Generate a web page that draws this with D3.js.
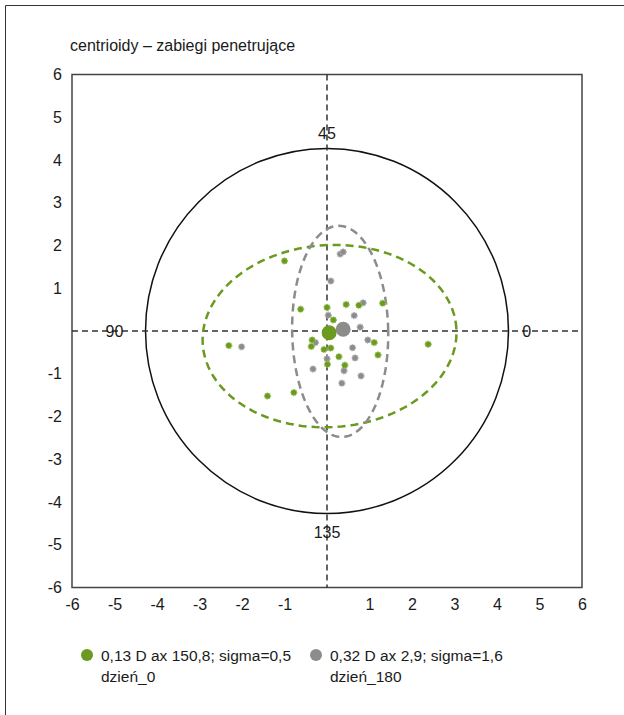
<!DOCTYPE html>
<html>
<head>
    <meta charset="utf-8">
    <title>centrioidy</title>
    <script src="https://d3js.org/d3.v7.min.js"></script>
    <style>
        body { margin: 0; background: #fff; }
        text { font-family: "Liberation Sans", Arial, sans-serif; font-size: 16px; fill: #1a1a1a; }
        .legend text { font-size: 15.5px; }
    </style>
</head>
<body>
    <div id="chart"></div>
    <script>
        // data (double-angle plot, dioptres)
        const xTicks = [-6, -5, -4, -3, -2, -1, 1, 2, 3, 4, 5, 6]
        const yTicks = [-6, -5, -4, -3, -2, -1, 1, 2, 3, 4, 5, 6]

        const day0X = [-1.00, -0.62, 0.00, 0.45, 0.75, 1.31, 0.15, -2.31, 2.38, -0.35, -0.37, -0.07, 0.09, 1.11, 1.20, 0.28, 0.01, 0.42, -1.40, -0.78]
        const day0Y = [1.64, 0.51, 0.55, 0.62, 0.60, 0.65, 0.26, -0.34, -0.31, -0.21, -0.36, -0.43, -0.40, -0.27, -0.56, -0.60, -0.78, -0.80, -1.52, -1.44]

        const day180X = [0.31, 0.38, 0.09, 0.85, 0.03, 0.64, 0.78, 0.96, -2.01, -0.27, 0.60, 0.66, 0.00, -0.33, 0.40, 0.80, 0.35]
        const day180Y = [1.80, 1.85, 1.17, 0.66, 0.37, 0.36, 0.09, -0.21, -0.37, -0.27, -0.39, -0.63, -0.65, -0.89, -0.93, -1.05, -1.22]

        const centroids = [
            { x: 0.05, y: -0.04, color: "#6a9a1f" },
            { x: 0.38, y: 0.04, color: "#8c8c8c" }
        ]

        // confidence ellipses: centre, semi axes, rotation (deg)
        const ellipses = [
            { cx: 0.06, cy: -0.12, rx: 2.99, ry: 2.13, rot: 3.4, color: "#6a9a1f" },
            { cx: 0.31, cy: -0.01, rx: 1.13, ry: 2.47, rot: 1.0, color: "#8c8c8c" }
        ]

        const ringRadius = 4.27
        const angleLabels = [
            { text: "0", x: 4.7, y: 0 },
            { text: "45", x: 0, y: 4.63 },
            { text: "90", x: -5.0, y: 0 },
            { text: "135", x: 0, y: -4.7 }
        ]

        const legendLabels = [
            ["0,13 D ax 150,8; sigma=0,5", "dzień_0"],
            ["0,32 D ax 2,9; sigma=1,6", "dzień_180"]
        ]

        const w = 624, h = 715
        const svg = d3.select("#chart").append("svg")
            .attr("width", w)
            .attr("height", h)

        // outer frame (top + left)
        svg.append("path")
            .attr("d", "M5.5,715 V5.5 H624")
            .attr("fill", "none")
            .attr("stroke", "#333")
            .attr("stroke-width", 1)

        svg.append("text")
            .attr("x", 70)
            .attr("y", 51)
            .text("centrioidy – zabiegi penetrujące")

        const xScale = d3.scaleLinear().domain([-6, 6]).range([72, 582])
        const yScale = d3.scaleLinear().domain([-6, 6]).range([587.5, 74.5])

        // plot box
        svg.append("rect")
            .attr("x", xScale(-6))
            .attr("y", yScale(6))
            .attr("width", xScale(6) - xScale(-6))
            .attr("height", yScale(-6) - yScale(6))
            .attr("fill", "none")
            .attr("stroke", "#444")
            .attr("stroke-width", 1.5)

        const hyphen = d => String(d)   // plain hyphen-minus like the original
        const xAxis = d3.axisBottom(xScale).tickValues(xTicks).tickFormat(hyphen).tickSize(0).tickPadding(11)
        const yAxis = d3.axisLeft(yScale).tickValues(yTicks).tickFormat(hyphen).tickSize(0).tickPadding(10)

        const gx = svg.append("g")
            .attr("transform", "translate(0," + yScale(-6) + ")")
            .call(xAxis)
        const gy = svg.append("g")
            .attr("transform", "translate(" + xScale(-6) + ",0)")
            .call(yAxis)
        ;[gx, gy].forEach(g => {
            g.select(".domain").remove()
            g.selectAll("text").attr("font-size", 16).attr("font-family", "Liberation Sans, Arial, sans-serif").attr("fill", "#1a1a1a")
        })

        // ring
        svg.append("ellipse")
            .attr("cx", xScale(0))
            .attr("cy", yScale(0))
            .attr("rx", xScale(ringRadius) - xScale(0))
            .attr("ry", yScale(0) - yScale(ringRadius))
            .attr("fill", "none")
            .attr("stroke", "#111")
            .attr("stroke-width", 1.5)

        // cross hair
        svg.append("line")
            .attr("x1", xScale(0)).attr("x2", xScale(0))
            .attr("y1", yScale(6)).attr("y2", yScale(-6))
            .attr("stroke", "#333").attr("stroke-width", 1.5)
            .attr("stroke-dasharray", "6,4")
        svg.append("line")
            .attr("x1", xScale(-6)).attr("x2", xScale(6))
            .attr("y1", yScale(0)).attr("y2", yScale(0))
            .attr("stroke", "#333").attr("stroke-width", 1.5)
            .attr("stroke-dasharray", "6,4")

        svg.selectAll(".angle")
            .data(angleLabels)
            .enter()
            .append("text")
            .attr("class", "angle")
            .attr("x", d => xScale(d.x))
            .attr("y", d => yScale(d.y))
            .attr("dy", "0.35em")
            .attr("text-anchor", "middle")
            .text(d => d.text)

        // ellipses
        const line = d3.line().x(d => xScale(d[0])).y(d => yScale(d[1]))
        function ellipsePoints(e) {
            const r = e.rot * Math.PI / 180
            return d3.range(0, 361, 3).map(a => {
                const t = a * Math.PI / 180
                const ex = e.rx * Math.cos(t), ey = e.ry * Math.sin(t)
                return [e.cx + ex * Math.cos(r) - ey * Math.sin(r), e.cy + ex * Math.sin(r) + ey * Math.cos(r)]
            })
        }
        svg.selectAll(".ell")
            .data(ellipses)
            .enter()
            .append("path")
            .attr("class", "ell")
            .attr("d", d => line(ellipsePoints(d)))
            .attr("fill", "none")
            .attr("stroke", d => d.color)
            .attr("stroke-width", 2.5)
            .attr("stroke-dasharray", "8,5")

        function drawPoints(xs, ys, color, light) {
            svg.append("g").selectAll("circle")
                .data(xs.map((x, i) => [x, ys[i]]))
                .enter()
                .append("circle")
                .attr("cx", d => xScale(d[0]))
                .attr("cy", d => yScale(d[1]))
                .attr("r", 3)
                .attr("fill", color)
                .attr("stroke", light)
                .attr("stroke-width", 1.3)
                .attr("stroke-dasharray", "1.2,1")
        }
        drawPoints(day180X, day180Y, "#8c8c8c", "#b5b5b5")
        drawPoints(day0X, day0Y, "#6a9a1f", "#9cc060")

        svg.selectAll(".centroid")
            .data(centroids)
            .enter()
            .append("circle")
            .attr("class", "centroid")
            .attr("cx", d => xScale(d.x))
            .attr("cy", d => yScale(d.y))
            .attr("r", 7.5)
            .attr("fill", d => d.color)

        // legend
        const legend = svg.append("g").attr("class", "legend")
        legendLabels.forEach((lines, i) => {
            const lx = 87 + i * 229
            legend.append("circle")
                .attr("cx", lx).attr("cy", 655)
                .attr("r", 6)
                .attr("fill", centroids[i].color)
            lines.forEach((t, j) => {
                legend.append("text")
                    .attr("x", lx + 14)
                    .attr("y", 661 + j * 21)
                    .text(t)
            })
        })
    </script>
</body>
</html>
